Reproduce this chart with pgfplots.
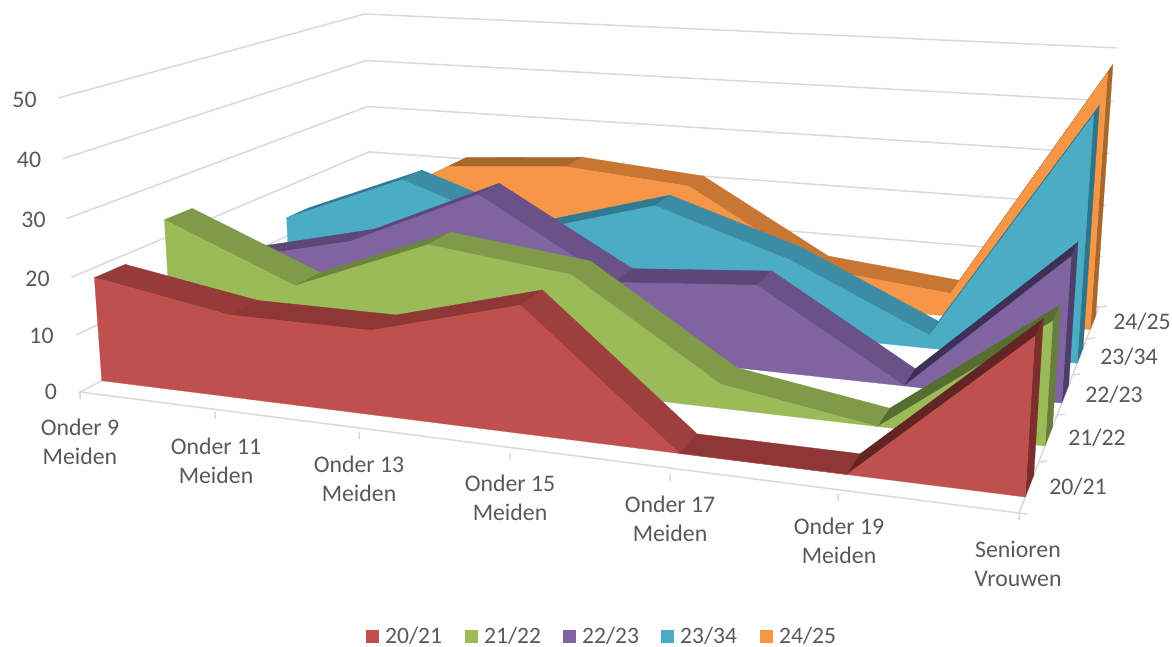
\documentclass[border=0pt]{standalone}
\usepackage{fontspec}
\setmainfont{Carlito}
\usepackage{pgfplots}
\usepackage{pgfplotstable}
\pgfplotsset{compat=1.18}
% series values: category, value (last rows close the area along the floor)
\pgfplotstableread{
c v
0 18.3
1 14.3
2 14.3
3 21
4 0
5 0
6 24
6 0
0 0
0 18.3
}\tRed
\pgfplotstableread{
c v
0 23.3
1 13.5
2 23.1
3 20.2
4 4.1
5 0
6 20
6 0
0 0
0 23.3
}\tGreen
\pgfplotstableread{
c v
0 10.7
1 16.4
2 27.2
3 13.3
4 15.2
5 0
6 24.8
6 0
0 0
0 10.7
}\tPurple
\pgfplotstableread{
c v
0 13.7
1 23.4
2 15.1
3 22.2
4 14.1
5 2.4
6 43.9
6 0
0 0
0 13.7
}\tBlue
\pgfplotstableread{
c v
0 8.3
1 21.7
2 23.5
3 21.4
4 7.1
5 4.5
6 47.8
6 0
0 0
0 8.3
}\tOrange
\definecolor{txt}{HTML}{595959}
\definecolor{gridc}{HTML}{D9D9D9}
\definecolor{rF}{HTML}{C0504D}\definecolor{rD}{HTML}{9C3F3D}\definecolor{rE}{HTML}{953B3A}\definecolor{rU}{HTML}{8E3736}\definecolor{rS}{HTML}{632524}\definecolor{rW}{HTML}{7C2E2D}
\definecolor{gF}{HTML}{9BBB59}\definecolor{gD}{HTML}{7F9A48}\definecolor{gU}{HTML}{6B863B}\definecolor{gS}{HTML}{566F30}\definecolor{gW}{HTML}{66803A}
\definecolor{pF}{HTML}{8064A2}\definecolor{pD}{HTML}{6A5188}\definecolor{pU}{HTML}{5C4778}\definecolor{pS}{HTML}{3E2F57}\definecolor{pW}{HTML}{4F3E69}
\definecolor{bF}{HTML}{4BACC6}\definecolor{bD}{HTML}{3D8CA5}\definecolor{bU}{HTML}{2F7A92}\definecolor{bS}{HTML}{2F7489}\definecolor{bW}{HTML}{2F7489}
\definecolor{oF}{HTML}{F79646}\definecolor{oD}{HTML}{C77733}\definecolor{oU}{HTML}{A9682B}\definecolor{oS}{HTML}{A9682B}\definecolor{oW}{HTML}{A9682B}
\pgfplotsset{table/proj/.style={x expr={PX(\thisrow{c},\thisrow{v},\thisrow{z})},y expr={PY(\thisrow{c},\thisrow{v},\thisrow{z})}}}
% top strip between categories
\newcommand{\seg}[7]{\addplot[fill=#7,draw=#7,line width=.3pt] table[row sep=\\,proj]{c v z\\ #3 #4 #1\\ #5 #6 #1\\ #5 #6 #2\\ #3 #4 #2\\ #3 #4 #1\\};}
% right side wall of a series
\newcommand{\sidew}[4]{\addplot[fill=#4,draw=#4,line width=.3pt] table[row sep=\\,proj]{c v z\\ 6 0 #1\\ 6 #3 #1\\ 6 #3 #2\\ 6 0 #2\\ 6 0 #1\\};}
% front face
\newcommand{\face}[3]{\addplot[fill=#3,draw=#3,line width=.3pt] table[x expr={PX(\thisrow{c},\thisrow{v},#1)},y expr={PY(\thisrow{c},\thisrow{v},#1)}]{#2};}
% grid line
\newcommand{\gline}[1]{\addplot[gridc,line width=1.5pt] table[row sep=\\,proj]{c v z\\ #1\\};}
\newcommand{\lab}[3]{\node[text=txt,align=center,font=\fontsize{23.8}{28.5}\selectfont,inner sep=0pt] at (axis cs:#1,#2) {#3};}
\newcommand{\lgd}[3]{\fill[#2] (axis cs:#1,630) rectangle (axis cs:#1+13,643);\node[text=txt,anchor=west,font=\fontsize{23.5}{28}\selectfont,inner sep=0pt] at (axis cs:#1+19,636) {#3};}
\begin{document}
\begin{tikzpicture}[declare function={
 WW(\xc,\xv,\xz)=1-0.1677*\xc/6-0.04*\xv/50+0.31*\xz;
 PX(\xc,\xv,\xz)=(80+768.1*\xc/6-24.3*\xv/50+407.3*\xz)/WW(\xc,\xv,\xz);
 PY(\xc,\xv,\xz)=(392+35*\xc/6-297.9*\xv/50-76.3*\xz)/WW(\xc,\xv,\xz);}]
\begin{axis}[scale only axis,width=1172pt,height=646pt,xmin=0,xmax=1172,ymin=0,ymax=646,y dir=reverse,hide axis,clip=false,enlargelimits=false]
\path (axis cs:0,0) -- (axis cs:1172,646);
% walls and floor
\gline{0 50 0\\0 50 1\\6 50 1}
\gline{0 40 0\\0 40 1\\6 40 1}
\gline{0 30 0\\0 30 1\\6 30 1}
\gline{0 20 0\\0 20 1\\6 20 1}
\gline{0 10 0\\0 10 1\\6 10 1}
\gline{0 0 1\\0 0 0\\6 0 0\\6 0 1}
\gline{0 0 1\\6 0 1}
\draw[gridc,line width=1.5pt] (axis cs:80,392)--(axis cs:80,399)
 (axis cs:215,412)--(axis cs:215,419) (axis cs:359,432)--(axis cs:359,439)
 (axis cs:510,453)--(axis cs:510,460) (axis cs:670,474)--(axis cs:670,481)
 (axis cs:838,494)--(axis cs:838,501) (axis cs:1019,513)--(axis cs:1019,520)
 (axis cs:1019,513)--(axis cs:1027,514) (axis cs:1039,462)--(axis cs:1047,461)
 (axis cs:1057,415)--(axis cs:1065,414) (axis cs:1072,375)--(axis cs:1080,374)
 (axis cs:1087,339)--(axis cs:1095,338) (axis cs:1099,307)--(axis cs:1107,306);
% 24/25
\seg{.855}{.945}{0}{8.3}{1}{21.7}{oU}\seg{.855}{.945}{1}{21.7}{2}{23.5}{oU}\seg{.855}{.945}{2}{23.5}{3}{21.4}{oD}\seg{.855}{.945}{3}{21.4}{4}{7.1}{oD}\seg{.855}{.945}{4}{7.1}{5}{4.5}{oD}\seg{.855}{.945}{5}{4.5}{6}{47.8}{oS}
\sidew{.855}{.945}{47.8}{oW}\face{.855}{\tOrange}{oF}
% 23/34
\seg{.66}{.745}{0}{13.7}{1}{23.4}{bU}\seg{.66}{.745}{1}{23.4}{2}{15.1}{bD}\seg{.66}{.745}{2}{15.1}{3}{22.2}{bU}\seg{.66}{.745}{3}{22.2}{4}{14.1}{bD}\seg{.66}{.745}{4}{14.1}{5}{2.4}{bD}\seg{.66}{.745}{5}{2.4}{6}{43.9}{bS}
\sidew{.66}{.745}{43.9}{bW}\face{.66}{\tBlue}{bF}
% 22/23
\seg{.455}{.545}{0}{10.7}{1}{16.4}{pU}\seg{.455}{.545}{1}{16.4}{2}{27.2}{pU}\seg{.455}{.545}{2}{27.2}{3}{13.3}{pD}\seg{.455}{.545}{3}{13.3}{4}{15.2}{pU}\seg{.455}{.545}{4}{15.2}{5}{0}{pD}\seg{.455}{.545}{5}{0}{6}{24.8}{pS}
\sidew{.455}{.545}{24.8}{pW}\face{.455}{\tPurple}{pF}
% 21/22
\seg{.26}{.345}{0}{23.3}{1}{13.5}{gD}\seg{.26}{.345}{1}{13.5}{2}{23.1}{gU}\seg{.26}{.345}{2}{23.1}{3}{20.2}{gD}\seg{.26}{.345}{3}{20.2}{4}{4.1}{gD}\seg{.26}{.345}{4}{4.1}{5}{0}{gD}\seg{.26}{.345}{5}{0}{6}{20}{gS}
\sidew{.26}{.345}{20}{gW}\face{.26}{\tGreen}{gF}
% 20/21
\seg{.058}{.142}{0}{18.3}{1}{14.3}{rE}\seg{.058}{.142}{1}{14.3}{2}{14.3}{rU}\seg{.058}{.142}{2}{14.3}{3}{21}{rU}\seg{.058}{.142}{3}{21}{4}{0}{rD}\seg{.058}{.142}{4}{0}{5}{0}{rU}\seg{.058}{.142}{5}{0}{6}{24}{rS}
\sidew{.058}{.142}{24}{rW}\face{.058}{\tRed}{rF}
% value labels
\lab{24.5}{100}{50}\lab{29}{160}{40}\lab{33.5}{220}{30}\lab{37.5}{279}{20}\lab{41.5}{336}{10}\lab{51}{392}{0}
% category labels
\lab{80}{442}{Onder 9\\Meiden}\lab{216}{461}{Onder 11\\Meiden}\lab{359}{479}{Onder 13\\Meiden}\lab{510}{498}{Onder 15\\Meiden}\lab{670}{519}{Onder 17\\Meiden}\lab{839}{541}{Onder 19\\Meiden}\lab{1018}{564}{Senioren\\Vrouwen}
% depth labels
\lab{1078}{487}{20/21}\lab{1097}{438}{21/22}\lab{1114}{395}{22/23}\lab{1129}{357}{23/34}\lab{1142}{322}{24/25}
% legend
\lgd{366}{rF}{20/21}\lgd{465}{gF}{21/22}\lgd{563}{pF}{22/23}\lgd{661}{bF}{23/34}\lgd{760}{oF}{24/25}
\end{axis}
\end{tikzpicture}
\end{document}
